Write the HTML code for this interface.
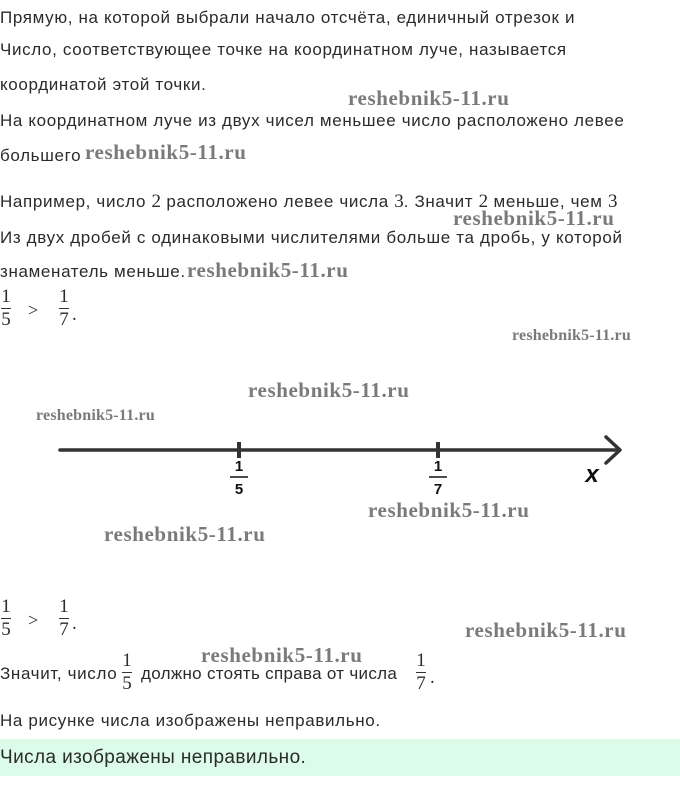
<!DOCTYPE html>
<html><head><meta charset="utf-8"><style>
body{margin:0;width:680px;height:809px;background:#fff;position:relative;overflow:hidden;font-family:"Liberation Sans",sans-serif;color:#2b2b2b;}
.t{position:absolute;left:0;font-size:17px;letter-spacing:0.65px;white-space:nowrap;line-height:20px;}
.w{position:absolute;font-family:"Liberation Serif",serif;font-weight:bold;color:#7a7a7a;white-space:nowrap;font-size:21px;line-height:20px;letter-spacing:0.6px;}
.ws{font-size:16px;letter-spacing:0.2px;}
.m{font-family:"Liberation Serif",serif;font-size:19px;letter-spacing:0;}
.fr{position:absolute;font-family:"Liberation Serif",serif;font-size:19px;text-align:center;width:12px;line-height:20px;}
.fr i{display:block;font-style:normal;}
.fr b{display:block;height:1px;background:#333;margin:1px 1px;}
</style></head><body>
<div class="t" style="top:8px">Прямую, на которой выбрали начало отсчёта, единичный отрезок и</div>
<div class="t" style="top:40px">Число, соответствующее точке на координатном луче, называется</div>
<div class="t" style="top:75px">координатой этой точки.</div>
<div class="w" style="left:348px;top:88px">reshebnik5-11.ru</div>
<div class="t" style="top:111px">На координатном луче из двух чисел меньшее число расположено левее</div>
<div class="t" style="top:146px">большего</div>
<div class="w" style="left:85px;top:142px">reshebnik5-11.ru</div>
<div class="t" style="top:192px">Например, число <span class="m">2</span> расположено левее числа <span class="m">3</span>. Значит <span class="m">2</span> меньше, чем <span class="m">3</span></div>
<div class="w" style="left:453px;top:208px">reshebnik5-11.ru</div>
<div class="t" style="top:228px">Из двух дробей с одинаковыми числителями больше та дробь, у которой</div>
<div class="t" style="top:262px">знаменатель меньше.</div>
<div class="w" style="left:187px;top:260px">reshebnik5-11.ru</div>
<div class="fr" style="left:0;top:287px"><i>1</i><b></b><i>5</i></div>
<div class="t m" style="left:28px;top:300px;font-size:18px;">&gt;</div>
<div class="fr" style="left:58px;top:287px"><i>1</i><b></b><i>7</i></div>
<div class="t m" style="left:72px;top:305px">.</div>
<div class="w ws" style="left:512px;top:326px">reshebnik5-11.ru</div>
<div class="w" style="left:248px;top:380px">reshebnik5-11.ru</div>
<div class="w ws" style="left:36px;top:406px">reshebnik5-11.ru</div>
<svg style="position:absolute;left:0;top:0" width="680" height="809">
<line x1="60" y1="450" x2="619" y2="450" stroke="#333" stroke-width="3.5" stroke-linecap="round"/>
<polyline points="606,437 620,450 606,463" fill="none" stroke="#333" stroke-width="3.5" stroke-linecap="round" stroke-linejoin="round"/>
<line x1="239" y1="442" x2="239" y2="458" stroke="#333" stroke-width="4"/>
<line x1="438" y1="442" x2="438" y2="458" stroke="#333" stroke-width="4"/>
<text x="239" y="471" font-family="Liberation Sans" font-weight="bold" font-size="15" text-anchor="middle" fill="#111">1</text>
<line x1="230" y1="477" x2="248" y2="477" stroke="#111" stroke-width="1.5"/>
<text x="239" y="494" font-family="Liberation Sans" font-weight="bold" font-size="15" text-anchor="middle" fill="#111">5</text>
<text x="438" y="471" font-family="Liberation Sans" font-weight="bold" font-size="15" text-anchor="middle" fill="#111">1</text>
<line x1="429" y1="477" x2="447" y2="477" stroke="#111" stroke-width="1.5"/>
<text x="438" y="494" font-family="Liberation Sans" font-weight="bold" font-size="15" text-anchor="middle" fill="#111">7</text>
<text x="592" y="482" font-family="Liberation Sans" font-weight="bold" font-style="italic" font-size="24" text-anchor="middle" fill="#111">x</text>
</svg>
<div class="w" style="left:368px;top:500px">reshebnik5-11.ru</div>
<div class="w" style="left:104px;top:524px">reshebnik5-11.ru</div>
<div class="fr" style="left:0;top:597px"><i>1</i><b></b><i>5</i></div>
<div class="t m" style="left:28px;top:610px;font-size:18px;">&gt;</div>
<div class="fr" style="left:58px;top:597px"><i>1</i><b></b><i>7</i></div>
<div class="t m" style="left:72px;top:614px">.</div>
<div class="w" style="left:465px;top:620px">reshebnik5-11.ru</div>
<div class="w" style="left:201px;top:645px">reshebnik5-11.ru</div>
<div class="t" style="top:664px">Значит, число</div>
<div class="fr" style="left:121px;top:651px"><i>1</i><b></b><i>5</i></div>
<div class="t" style="left:141px;top:664px;letter-spacing:0.3px">должно стоять справа от числа</div>
<div class="fr" style="left:415px;top:651px"><i>1</i><b></b><i>7</i></div>
<div class="t m" style="left:430px;top:668px">.</div>
<div class="t" style="top:711px">На рисунке числа изображены неправильно.</div>
<div style="position:absolute;left:0;top:739px;width:680px;height:37px;background:#dcfbe9;"></div>
<div class="t" style="top:748px;font-size:19px;letter-spacing:0.4px">Числа изображены неправильно.</div>
</body></html>
